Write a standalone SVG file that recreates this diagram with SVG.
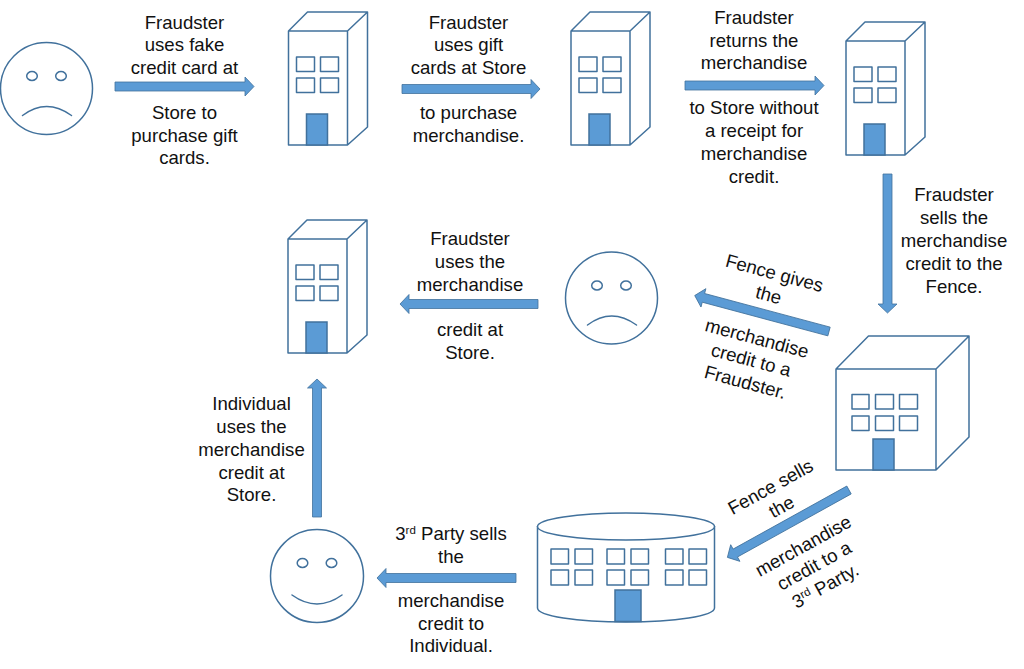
<svg xmlns="http://www.w3.org/2000/svg" width="1024" height="669" viewBox="0 0 1024 669">
<style>
.l{fill:#fff;stroke:#41719c;stroke-width:1.5;stroke-linejoin:round}
.o{fill:none;stroke:#41719c;stroke-width:1.5;stroke-linecap:round}
.d{fill:#5b9bd5;stroke:#41719c;stroke-width:1.5}
.a{fill:#5b9bd5;stroke:#41719c;stroke-width:.8}
text{font-family:"Liberation Sans",Arial,sans-serif;font-size:18.6px;fill:#111;text-anchor:middle}
.s{font-size:11.5px}
</style>
<defs>
<g id="tower">
<path class="l" d="M0 0V114H59V0ZM0 0L19-19H79L59 0M79-19V96L59 114"/>
<rect class="l" x="8" y="26" width="18" height="14.500"/><rect class="l" x="32" y="26" width="18" height="14.500"/>
<rect class="l" x="8" y="47" width="18" height="14.500"/><rect class="l" x="32" y="47" width="18" height="14.500"/>
<rect class="d" x="18" y="83" width="21" height="31"/>
</g>
<g id="sad">
<circle class="l" r="46"/><ellipse class="o" cx="-14.500" cy="-12.500" rx="5.300" ry="4.500"/><ellipse class="o" cx="14.500" cy="-12.500" rx="5.300" ry="4.500"/>
<path class="o" d="M-24 27Q0 9 25 27"/>
</g>
</defs>
<g id="face-fraudster-1"><use href="#sad" x="46.500" y="88.500"/></g>
<g id="store-1"><use href="#tower" x="288.500" y="31"/></g>
<g id="store-2"><use href="#tower" x="571" y="31"/></g>
<g id="store-3"><use href="#tower" x="846" y="41"/></g>
<g id="store-4"><use href="#tower" x="288" y="239"/></g>
<g id="face-fraudster-2"><use href="#sad" x="611.500" y="298"/></g>
<g id="fence">
<path class="l" d="M836 369V470H936V369ZM836 369L868.500 336H969L936 369M969 336V437L936 470"/>
<rect class="l" x="852" y="394.500" width="17" height="14.500"/><rect class="l" x="875.500" y="394.500" width="18" height="14.500"/><rect class="l" x="899.500" y="394.500" width="18" height="14.500"/>
<rect class="l" x="852" y="416" width="17" height="14.500"/><rect class="l" x="875.500" y="416" width="18" height="14.500"/><rect class="l" x="899.500" y="416" width="18" height="14.500"/>
<rect class="d" x="873" y="439" width="21" height="31"/>
</g>
<g id="third-party">
<path class="l" d="M537.500 526V608C537.500 616 577 622 626 622S714.500 616 714.500 608V526"/>
<ellipse class="l" cx="626" cy="526.500" rx="88.500" ry="13.500"/>
<rect class="l" x="551" y="549" width="17.500" height="15"/><rect class="l" x="575" y="549" width="17.500" height="15"/><rect class="l" x="607" y="549" width="17.500" height="15"/><rect class="l" x="631" y="549" width="17.500" height="15"/><rect class="l" x="665.500" y="549" width="17.500" height="15"/><rect class="l" x="689" y="549" width="17.500" height="15"/>
<rect class="l" x="551" y="570" width="17.500" height="15"/><rect class="l" x="575" y="570" width="17.500" height="15"/><rect class="l" x="607" y="570" width="17.500" height="15"/><rect class="l" x="631" y="570" width="17.500" height="15"/><rect class="l" x="665.500" y="570" width="17.500" height="15"/><rect class="l" x="689" y="570" width="17.500" height="15"/>
<rect class="d" x="615" y="590" width="26" height="31.500"/>
</g>
<g id="face-individual">
<circle class="l" cx="317" cy="576" r="46.500"/><ellipse class="o" cx="302.500" cy="563" rx="5.300" ry="4.500"/><ellipse class="o" cx="331.500" cy="563" rx="5.300" ry="4.500"/>
<path class="o" d="M292 595Q317 613 342 595"/>
</g>
<g id="connectors">
<polygon class="a" transform="translate(115 86.500)" points="0,-4.500 130,-4.500 130,-9.500 139,0 130,9.500 130,4.500 0,4.500"/>
<polygon class="a" transform="translate(402 89)" points="0,-4.500 129,-4.500 129,-9.500 138,0 129,9.500 129,4.500 0,4.500"/>
<polygon class="a" transform="translate(685 85.500)" points="0,-4.500 130,-4.500 130,-9.500 139,0 130,9.500 130,4.500 0,4.500"/>
<polygon class="a" transform="translate(887.500 174) rotate(90)" points="0,-4.500 130,-4.500 130,-9.500 139,0 130,9.500 130,4.500 0,4.500"/>
<polygon class="a" transform="translate(829 331.500) rotate(195)" points="0,-4.500 130,-4.500 130,-9.500 139,0 130,9.500 130,4.500 0,4.500"/>
<polygon class="a" transform="translate(538 304) rotate(180)" points="0,-4.500 129,-4.500 129,-9.500 138,0 129,9.500 129,4.500 0,4.500"/>
<polygon class="a" transform="translate(849 490) rotate(151)" points="0,-4.500 130,-4.500 130,-9.500 139,0 130,9.500 130,4.500 0,4.500"/>
<polygon class="a" transform="translate(516 578) rotate(180)" points="0,-4.500 130,-4.500 130,-9.500 139,0 130,9.500 130,4.500 0,4.500"/>
<polygon class="a" transform="translate(317 517) rotate(-90)" points="0,-4.500 129,-4.500 129,-9.500 138,0 129,9.500 129,4.500 0,4.500"/>
</g>
<g id="labels">
<text x="184.500" y="28.500">Fraudster</text><text x="184.500" y="51">uses fake</text><text x="184.500" y="73.500">credit card at</text><text x="184.500" y="118.500">Store to</text><text x="184.500" y="141.500">purchase gift</text><text x="184.500" y="164">cards.</text>
<text x="468.500" y="28.500">Fraudster</text><text x="468.500" y="51">uses gift</text><text x="468.500" y="73.500">cards at Store</text><text x="468.500" y="119">to purchase</text><text x="468.500" y="142">merchandise.</text>
<text x="754" y="24">Fraudster</text><text x="754" y="46.500">returns the</text><text x="754" y="69">merchandise</text><text x="754" y="114">to Store without</text><text x="754" y="137">a receipt for</text><text x="754" y="160">merchandise</text><text x="754" y="183">credit.</text>
<text x="954" y="201">Fraudster</text><text x="954" y="224">sells the</text><text x="954" y="247">merchandise</text><text x="954" y="270">credit to the</text><text x="954" y="293">Fence.</text>
<text x="470" y="245">Fraudster</text><text x="470" y="268">uses the</text><text x="470" y="290.500">merchandise</text><text x="470" y="336">credit at</text><text x="470" y="359">Store.</text>
<text x="251.500" y="410">Individual</text><text x="251.500" y="433">uses the</text><text x="251.500" y="456">merchandise</text><text x="251.500" y="479">credit at</text><text x="251.500" y="501">Store.</text>
<text x="451" y="540">3<tspan class="s" dy="-6">rd</tspan><tspan dy="6"> Party sells</tspan></text><text x="451" y="562.500">the</text><text x="451" y="607">merchandise</text><text x="451" y="630">credit to</text><text x="451" y="652">Individual.</text>
<g transform="translate(763.500 314) rotate(15)"><text x="0" y="-36">Fence gives</text><text x="0" y="-13.500">the</text><text x="0" y="31.500">merchandise</text><text x="0" y="54">credit to a</text><text x="0" y="77">Fraudster.</text></g>
<g transform="translate(791 524) rotate(-29)"><text x="0" y="-36">Fence sells</text><text x="0" y="-13.500">the</text><text x="0" y="31.500">merchandise</text><text x="0" y="54">credit to a</text><text x="0" y="77">3<tspan class="s" dy="-6">rd</tspan><tspan dy="6"> Party.</tspan></text></g>
</g>
</svg>
